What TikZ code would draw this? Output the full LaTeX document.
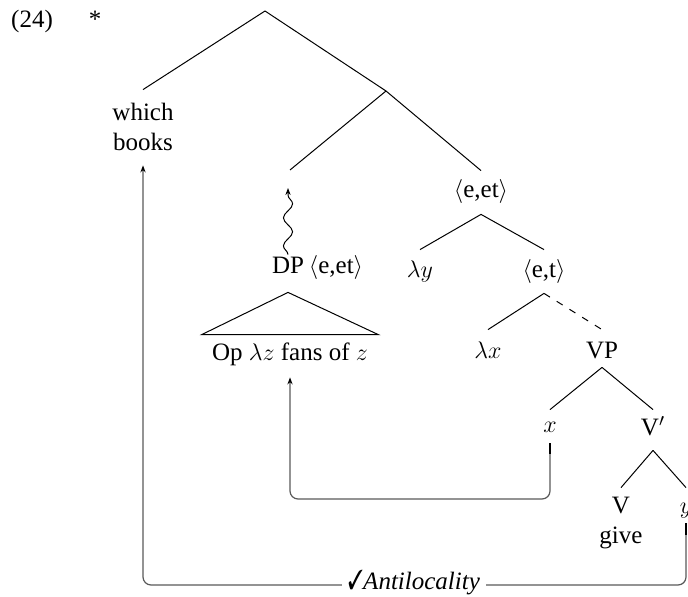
\documentclass[tikz,border=0pt]{standalone}
\usepackage{amssymb}
\usepackage{pifont}
\usepackage{graphicx}
\usepackage{fontspec}
\setmainfont{Liberation Serif}
\usetikzlibrary{arrows.meta,decorations.pathmorphing}
\tikzset{
  tn/.style 2 args={inner sep=0pt, anchor=base, text height=#1, text depth=#2},
  edge/.style={line width=0.5pt},
  dashededge/.style={line width=0.5pt, dash pattern=on 3.5pt off 4pt},
  move/.style={line width=0.6pt, draw=black!65, rounded corners=4pt, -{Stealth[length=3.5pt,width=2.6pt,black]}},
  thickstart/.style={line width=1.1pt, draw=black},
  wavy/.style={line width=0.5pt, decorate, decoration={snake, amplitude=2.3pt, segment length=14pt, post length=3pt}, -{Stealth[length=3.5pt,width=2.6pt]}},
  lbl/.style={inner sep=0pt, anchor=base}
}
\begin{document}
\begin{tikzpicture}[x=0.5pt, y=-0.5pt, font=\fontsize{12.5}{15}\selectfont]
\useasboundingbox (0,0) rectangle (688,597);
% numbering
\node[lbl] (num) at (32,28) {(24)};
\node[lbl] (star) at (95,28) {*};
% junctions
\coordinate (root) at (265,11);
\coordinate (n1) at (386,91);
\coordinate (n2) at (290,170);
\coordinate (n2tip) at (288,188);
\coordinate (lowA) at (0,499);
\coordinate (lowB) at (0,585);
% labelled nodes
\node[tn={15.5pt}{3pt}] (which) at (143,121) {which};
\node[tn={9pt}{7pt}] (books) at (143,151) {books};
\node[tn={13.5pt}{8pt}] (ebt) at (481,198) {$\langle$e,et$\rangle$};
\node[tn={14pt}{3pt}] (ly) at (420,278) {$\lambda y$};
\node[tn={14pt}{7.5pt}] (et) at (544,278) {$\langle$e,t$\rangle$};
\node[tn={14pt}{3pt}] (lx) at (488,358) {$\lambda x$};
\node[tn={14pt}{4.5pt}] (vp) at (602,358) {VP};
\node[tn={11pt}{5.5pt}] (x) at (550,432) {$x$};
\node[tn={12.5pt}{7.5pt}] (vbar) at (653,435) {V$'$};
\node[tn={12.5pt}{3pt}] (v) at (621,513) {V};
\node[tn={9pt}{3pt}] (give) at (621,543) {give};
\node[tn={12.5pt}{5pt}] (yy) at (686,513) {$y$};
\node[tn={9.5pt}{9pt}] (dp) at (288,274) {DP};
\node[lbl] (dpt) at (336,274) {$\langle$e,et$\rangle$};
\node[tn={12.5pt}{8.5pt}] (op) at (290,360) {Op $\lambda z$ fans of $z$};
% tree edges
\draw[edge] (root) -- (which.north);
\draw[edge] (root) -- (n1);
\draw[edge] (n1) -- (n2);
\draw[edge] (n1) -- (ebt.north);
\draw[edge] (ebt.south) -- (ly.north);
\draw[edge] (ebt.south) -- (et.north);
\draw[edge] (et.south) -- (lx.north);
\draw[dashededge] (et.south) -- (vp.north);
\draw[edge] (vp.south) -- (x.north);
\draw[edge] (vp.south) -- (vbar.north);
\draw[edge] (vbar.south) -- (v.north);
\draw[edge] (vbar.south) -- (yy.north);
% triangle
\draw[edge] (dp.south) -- ([xshift=-5pt]op.north west) -- ([xshift=5pt]op.north east) -- cycle;
% wavy arrow
\draw[wavy] (dp.north) -- (n2tip);
% movement arrows
\draw[move] (x.south) -- (x.south |- lowA) -- (op.south |- lowA) -- (op.south);
\draw[thickstart] (x.south) -- ++(0,-5.5pt);
\draw[move] (yy.south) -- (yy.south |- lowB) -- (books.south |- lowB) -- (books.south);
\draw[thickstart] (yy.south) -- ++(0,-6pt);
\node[fill=white, inner xsep=3pt, inner ysep=1pt] (anti) at (414,582) {\scalebox{0.8}[1.1]{\ding{51}}\textit{Antilocality}};
\end{tikzpicture}
\end{document}
